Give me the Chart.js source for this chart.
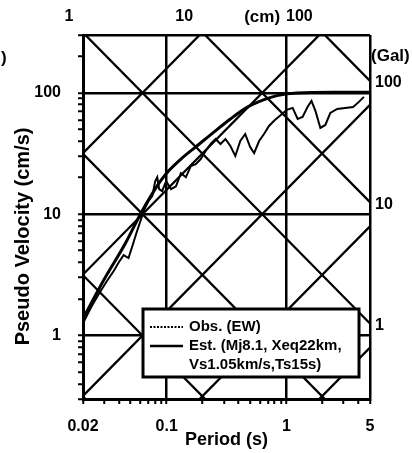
<!DOCTYPE html>
<html>
<head>
<meta charset="utf-8">
<script src="https://cdn.jsdelivr.net/npm/chart.js@4.4.3/dist/chart.umd.min.js"></script>
<style>
  html, body { margin: 0; padding: 0; background: #fff; }
  #wrap { width: 412px; height: 453px; position: relative; }
</style>
</head>
<body>
<div id="wrap"><canvas id="spec"></canvas></div>
<script>
// observed pseudo velocity response (period s, cm/s)
const obsPeriod = [0.02, 0.0233, 0.0271, 0.0316, 0.0361, 0.0397, 0.0437, 0.048, 0.0518, 0.0559,
  0.0603, 0.0651, 0.0702, 0.0758, 0.0802, 0.0834, 0.0866, 0.0917, 0.0989, 0.1088,
  0.1196, 0.1316, 0.1447, 0.1592, 0.175, 0.1925, 0.2118, 0.233, 0.2562, 0.2818,
  0.3099, 0.3408, 0.3748, 0.4122, 0.4535, 0.4987, 0.538, 0.592, 0.651, 0.716,
  0.802, 0.9, 1.008, 1.13, 1.243, 1.367, 1.503, 1.622, 1.75, 1.925,
  2.118, 2.33, 2.66, 3.1, 3.61, 4.04, 4.45];
const obsVel = [1.26, 1.7, 2.2, 2.8, 3.4, 4.0, 4.6, 4.35, 5.5, 7.0,
  8.76, 11.0, 12.8, 14.1, 18.7, 20.2, 16.1, 15.5, 18.7, 16.1,
  17.0, 21.8, 20.2, 24.9, 25.9, 28.5, 33.2, 37.9, 41.7, 37.9,
  41.7, 36.5, 30.2, 40.1, 45.8, 35.8, 31.9, 40.1, 45.8, 53.4,
  59.8, 65.8, 72.4, 75.2, 61.0, 63.4, 76.6, 85.9, 71.0, 51.4,
  54.4, 68.4, 73.8, 75.2, 76.6, 84.3, 92.7];

// estimated spectrum
const estPeriod = [0.02, 0.03, 0.045, 0.0603, 0.075, 0.0896, 0.105, 0.1316, 0.182, 0.251,
  0.341, 0.469, 0.651, 0.835, 1.22, 2.5, 5];
const estVel = [1.38, 2.9, 5.7, 10, 14.5, 19, 23, 28.5, 37, 48,
  61, 76, 88, 95, 100, 101, 101];

// axes
const xTickValues = [0.02, 0.03, 0.04, 0.05, 0.06, 0.07, 0.08, 0.09, 0.1, 0.2, 0.3, 0.4, 0.5,
  0.6, 0.7, 0.8, 0.9, 1, 2, 3, 4, 5];
const xLabelValues = [0.02, 0.1, 1, 5];
const xLabelText = ['0.02', '0.1', '1', '5'];
const xGridValues = [0.1, 1, 5];
const yTickValues = [0.3, 0.4, 0.5, 0.6, 0.7, 0.8, 0.9, 1, 2, 3, 4, 5, 6, 7, 8, 9, 10,
  20, 30, 40, 50, 60, 70, 80, 90, 100, 200, 300];
const yLabelValues = [1, 10, 100];
const yLabelText = ['1', '10', '100'];
const yGridValues = [1, 10, 100, 300];

// tripartite diagonals: displacement (cm) and acceleration (Gal)
const dispLevels = [0.001, 0.01, 0.1, 1, 10, 100];
const accLevels = [1, 10, 100, 1000, 10000, 100000];
const dispLabelLevels = [1, 10, 100];
const dispLabelText = ['1', '10', '100'];
const accLabelLevels = [1, 10, 100];
const accLabelText = ['1', '10', '100'];

const legendText = ['Obs. (EW)', 'Est. (Mj8.1, Xeq22km,', 'Vs1.05km/s,Ts15s)'];

const FONT = 'Arial, "Liberation Sans", sans-serif';
const near = (a, b) => Math.abs(a - b) < b * 1e-6;
const pick = (vals, v) => vals.some(g => near(v, g));

function labelFor(vals, texts, v) {
  const i = vals.findIndex(g => near(v, g));
  return i < 0 ? '' : texts[i];
}

// draw the constant-displacement / constant-acceleration lines and their labels
const tripartite = {
  id: 'tripartite',
  beforeDatasetsDraw(chart) {
    const { ctx, chartArea: a, scales: { x, y } } = chart;
    const t0 = x.min, t1 = x.max;
    const seg = (ta, va, tb, vb) => {
      ctx.moveTo(x.getPixelForValue(ta), y.getPixelForValue(va));
      ctx.lineTo(x.getPixelForValue(tb), y.getPixelForValue(vb));
    };
    ctx.save();
    ctx.beginPath();
    ctx.rect(a.left, a.top, a.right - a.left, a.bottom - a.top);
    ctx.clip();
    ctx.beginPath();
    dispLevels.forEach(d => seg(t0, 2 * Math.PI * d / t0, t1, 2 * Math.PI * d / t1));
    accLevels.forEach(g => seg(t0, g * t0 / (2 * Math.PI), t1, g * t1 / (2 * Math.PI)));
    ctx.strokeStyle = '#000';
    ctx.lineWidth = 2.3;
    ctx.stroke();
    ctx.restore();

    ctx.save();
    ctx.fillStyle = '#000';
    ctx.font = 'bold 16px ' + FONT;
    ctx.textBaseline = 'middle';
    // displacement labels along the top
    ctx.textAlign = 'right';
    let cmLeft = 0;
    dispLabelLevels.forEach((d, i) => {
      const px = x.getPixelForValue(2 * Math.PI * d / y.max);
      const lx = px - 12;
      ctx.fillText(dispLabelText[i], lx, a.top - 18);
      cmLeft = lx - ctx.measureText(dispLabelText[i]).width;
    });
    ctx.font = 'bold 17px ' + FONT;
    ctx.fillText('(cm)', cmLeft - 6, a.top - 18);
    // acceleration labels along the right
    ctx.textAlign = 'left';
    ctx.font = 'bold 16px ' + FONT;
    let galY = Infinity;
    accLabelLevels.forEach((g, i) => {
      const py = y.getPixelForValue(g * x.max / (2 * Math.PI));
      ctx.fillText(accLabelText[i], a.right + 5, py - 22);
      galY = Math.min(galY, py - 22);
    });
    ctx.font = 'bold 17px ' + FONT;
    ctx.fillText('(Gal)', a.right + 1, galY - 27);
    ctx.fillText(')', 1, 58);
    ctx.restore();
  },
  afterDatasetsDraw(chart) {
    const { ctx, chartArea: a } = chart;
    const box = { left: a.left + 60, top: a.bottom - 90, right: a.right - 11, bottom: a.bottom - 22 };
    ctx.save();
    ctx.fillStyle = '#fff';
    ctx.fillRect(box.left, box.top, box.right - box.left, box.bottom - box.top);
    ctx.strokeStyle = '#000';
    ctx.lineWidth = 3;
    ctx.strokeRect(box.left, box.top, box.right - box.left, box.bottom - box.top);
    const rowY = [box.top + 18, box.top + 37, box.top + 56];
    // samples
    ctx.lineWidth = 2;
    ctx.setLineDash([2, 1.5]);
    ctx.beginPath();
    ctx.moveTo(box.left + 7, rowY[0]);
    ctx.lineTo(box.left + 40, rowY[0]);
    ctx.stroke();
    ctx.setLineDash([]);
    ctx.lineWidth = 2.5;
    ctx.beginPath();
    ctx.moveTo(box.left + 7, rowY[1]);
    ctx.lineTo(box.left + 40, rowY[1]);
    ctx.stroke();
    ctx.fillStyle = '#000';
    ctx.font = 'bold 15px ' + FONT;
    ctx.textBaseline = 'middle';
    ctx.textAlign = 'left';
    legendText.forEach((t, i) => ctx.fillText(t, box.left + 46, rowY[i]));
    ctx.restore();
  }
};

const obsData = obsPeriod.map((t, i) => ({ x: t, y: obsVel[i] }));
const estData = estPeriod.map((t, i) => ({ x: t, y: estVel[i] }));

new Chart(document.getElementById('spec'), {
  type: 'line',
  data: {
    datasets: [
      {
        label: 'Obs. (EW)',
        data: obsData,
        borderColor: '#000',
        borderWidth: 2,
        pointRadius: 0,
        tension: 0,
      },
      {
        label: 'Est.',
        data: estData,
        borderColor: '#000',
        borderWidth: 3,
        pointRadius: 0,
        cubicInterpolationMode: 'monotone',
      },
    ],
  },
  options: {
    responsive: true,
    maintainAspectRatio: false,
    animation: false,
    layout: { padding: { left: 11, right: 42, top: 35, bottom: 2 } },
    plugins: { legend: { display: false }, tooltip: { enabled: false } },
    scales: {
      x: {
        type: 'logarithmic',
        min: 0.02,
        max: 5,
        afterBuildTicks: s => { s.ticks = xTickValues.map(v => ({ value: v })); },
        afterFit: s => { s.height = 52; },
        ticks: {
          autoSkip: false,
          maxRotation: 0,
          padding: 13,
          color: '#000',
          font: { family: FONT, size: 16, weight: 'bold' },
          callback: v => labelFor(xLabelValues, xLabelText, v),
        },
        grid: {
          color: c => (pick(xGridValues, c.tick.value) ? '#000' : 'rgba(0,0,0,0)'),
          lineWidth: 2.5,
          tickColor: '#000',
          tickLength: 5,
          tickWidth: 2,
        },
        border: { color: '#000', width: 3 },
        title: {
          display: true,
          text: 'Period (s)',
          color: '#000',
          padding: 0,
          font: { family: FONT, size: 18, weight: 'bold' },
        },
      },
      y: {
        type: 'logarithmic',
        min: 0.3,
        max: 300,
        afterBuildTicks: s => { s.ticks = yTickValues.map(v => ({ value: v })); },
        afterFit: s => { s.width = 72; },
        ticks: {
          autoSkip: false,
          padding: 17,
          color: '#000',
          font: { family: FONT, size: 16, weight: 'bold' },
          callback: v => labelFor(yLabelValues, yLabelText, v),
        },
        grid: {
          color: c => (pick(yGridValues, c.tick.value) ? '#000' : 'rgba(0,0,0,0)'),
          lineWidth: 2.5,
          tickColor: '#000',
          tickLength: 5,
          tickWidth: 2,
        },
        border: { color: '#000', width: 3 },
        title: {
          display: true,
          // trailing spaces nudge the rotated title down toward where the scan has it
          text: 'Pseudo Velocity (cm/s)\u00a0\u00a0\u00a0\u00a0\u00a0\u00a0\u00a0',
          color: '#000',
          padding: 0,
          font: { family: FONT, size: 20, weight: 'bold' },
        },
      },
    },
  },
  plugins: [tripartite],
});
</script>
</body>
</html>
